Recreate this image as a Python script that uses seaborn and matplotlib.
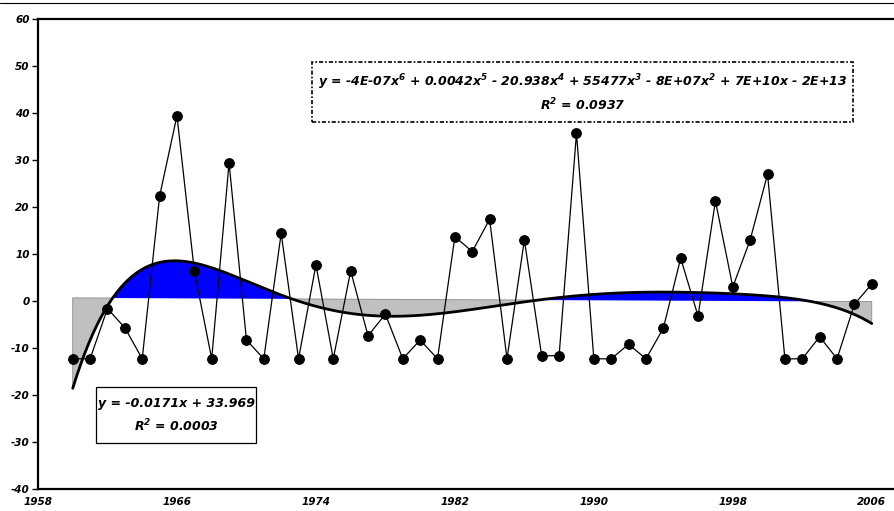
import numpy as np
import pandas as pd
import matplotlib
matplotlib.use("Agg")
import matplotlib.pyplot as plt
import seaborn as sns
from matplotlib.patches import Rectangle
from matplotlib.lines import Line2D

years = list(range(1960, 2007))
values = [-12.3, -12.3, -1.6, -5.7, -12.3, 22.3, 39.4, 6.4, -12.3, 29.4,
          -8.3, -12.3, 14.4, -12.3, 7.7, -12.3, 6.4, -7.4, -2.8, -12.3,
          -8.3, -12.3, 13.7, 10.5, 17.4, -12.3, 13.0, -11.7, -11.6, 35.7,
          -12.3, -12.3, -9.2, -12.3, -5.8, 9.1, -3.2, 21.3, 3.0, 13.0,
          27.0, -12.3, -12.3, -7.6, -12.3, -0.7, 3.6]

poly_label = ("y = -4E-07x$^6$ + 0.0042x$^5$ - 20.938x$^4$ + 55477x$^3$ "
              "- 8E+07x$^2$ + 7E+10x - 2E+13")
poly_r2 = "R$^2$ = 0.0937"
lin_label = "y = -0.0171x + 33.969"
lin_r2 = "R$^2$ = 0.0003"
xtick_years = [1958, 1966, 1974, 1982, 1990, 1998, 2006]
ytick_vals = list(range(-40, 61, 10))

df = pd.DataFrame({"year": years, "value": values})

# trend lines fitted from the data (centred years for a stable fit)
yr = np.array(years, dtype=float)
val = np.array(values)
c6 = np.polyfit(yr - 1983, val, 6)
c1 = np.polyfit(yr, val, 1)
xs = np.linspace(1960, 2006, 600)
poly = np.polyval(c6, xs - 1983)
lin = np.polyval(c1, xs)
fit = pd.DataFrame({"year": xs, "poly": poly})

sns.set_style("white")
plt.rcParams["font.family"] = ["DejaVu Sans"]
plt.rcParams["font.weight"] = "bold"
plt.rcParams["font.style"] = "italic"
plt.rcParams["mathtext.default"] = "regular"
plt.rcParams["axes.unicode_minus"] = False
for k in ["text.color", "xtick.color", "ytick.color", "axes.labelcolor"]:
    plt.rcParams[k] = "black"

W, H = 895, 511
fig = plt.figure(figsize=(W / 100, H / 100), dpi=100)
L, R, T, B = 38, 895, 19, 489
ax = fig.add_axes([L / W, 1 - B / H, (R - L) / W, (B - T) / H])

ax.fill_between(xs, lin, poly, where=poly >= lin, interpolate=True,
                color="#0000ff", lw=0)
ax.fill_between(xs, lin, poly, where=poly <= lin, interpolate=True,
                facecolor="#c0c0c0", edgecolor="#8a8a8a", lw=0.6)

sns.lineplot(data=df, x="year", y="value", ax=ax, color="black", lw=0.9,
             marker="o", markersize=7, markeredgecolor="black", zorder=4)
sns.lineplot(data=fit, x="year", y="poly", ax=ax, color="black", lw=2.0,
             zorder=3)

ax.set_xlim(1958, 1958 + (R - L) / 17.37)
ax.set_ylim(-40, 60)
ax.set_xticks(xtick_years)
ax.set_yticks(ytick_vals)
ax.set_xticklabels([str(v) for v in xtick_years])
ax.set_yticklabels([str(v) for v in ytick_vals])
ax.tick_params(axis="x", length=0, pad=6, labelsize=7.5, labelcolor="black")
ax.tick_params(axis="y", length=4, width=1, direction="out", pad=2,
               labelsize=7.5, left=True, color="black", labelcolor="black")
ax.set_xlabel("")
ax.set_ylabel("")
for s in ["left", "top", "bottom"]:
    ax.spines[s].set_linewidth(1.6)
    ax.spines[s].set_color("black")
ax.spines["right"].set_visible(False)


def axpt(px, py):
    return (px - L) / (R - L), (B - py) / (B - T)


# polynomial equation box (dotted border)
x0, y1 = axpt(312, 62)
x1, y0 = axpt(853, 122)
ax.add_patch(Rectangle((x0, y0), x1 - x0, y1 - y0, transform=ax.transAxes,
                       fill=False, ec="black", lw=1.2,
                       linestyle=(0, (2.5, 1.2, 1, 1.2)), zorder=5))
cx, _ = axpt(582.5, 0)
ax.text(cx, axpt(0, 82)[1], poly_label, transform=ax.transAxes,
        ha="center", va="center", fontsize=9, color="black", zorder=6)
ax.text(cx, axpt(0, 105)[1], poly_r2, transform=ax.transAxes,
        ha="center", va="center", fontsize=9, color="black", zorder=6)

# linear equation box
x0, y1 = axpt(96, 387)
x1, y0 = axpt(256, 443)
ax.add_patch(Rectangle((x0, y0), x1 - x0, y1 - y0, transform=ax.transAxes,
                       facecolor="white", ec="black", lw=0.9, zorder=5))
cx, _ = axpt(176, 0)
ax.text(cx, axpt(0, 403)[1], lin_label, transform=ax.transAxes,
        ha="center", va="center", fontsize=9, color="black", zorder=6)
ax.text(cx, axpt(0, 426)[1], lin_r2, transform=ax.transAxes,
        ha="center", va="center", fontsize=9, color="black", zorder=6)

fig.add_artist(Line2D([0, 1], [1 - 3 / H, 1 - 3 / H], color="black", lw=0.8))

fig.savefig("out.png", dpi=100)
